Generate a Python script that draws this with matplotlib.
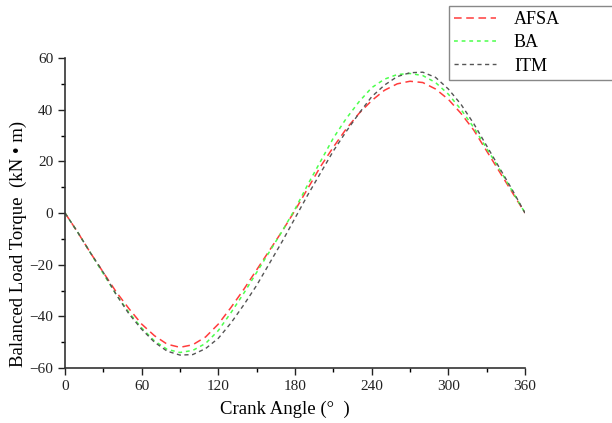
import matplotlib
matplotlib.use("Agg")
import matplotlib.pyplot as plt
import numpy as np
from matplotlib.ticker import MultipleLocator

plt.rcParams['font.family'] = ['Liberation Serif', 'DejaVu Serif']

# crank angle, degrees
angle = np.arange(0, 361, 10)

afsa = [0, -7.5, -15.5, -23, -30.5, -37, -43, -47.5, -50.8, -52,
        -51, -48, -43, -36.5, -29.5, -22, -14.5, -7, 1, 9.5,
        18, 25.5, 32.5, 38.5, 43.5, 47.5, 50, 51, 50.5, 48,
        44, 38.5, 32, 24, 16, 8, 0]
ba = [0, -7.5, -15.5, -23.5, -31.5, -38.5, -44.5, -49.5, -52.8, -54,
      -53.2, -50.5, -45.5, -38.5, -31, -23, -15, -7, 1.5, 11,
      20, 29, 36.5, 43, 48.5, 51.8, 53.6, 54, 53.2, 50.5,
      46, 40, 33, 25, 17, 8.5, 0]
itm = [0, -7.5, -15.5, -23, -31.5, -39, -45, -50, -53.5, -55,
       -54.8, -52.5, -48.5, -42.5, -35.5, -28, -19.5, -11, -2, 7,
       15.5, 24, 31.5, 38.5, 45, 49.5, 52.8, 54.3, 54.5, 52.5,
       48, 42, 34.5, 26, 17.5, 9, 0]

fig = plt.figure(figsize=(6.12, 4.23), dpi=100)
ax = fig.add_axes([65/612, 1-368/423, 460/612, 310/423])

ax.plot(angle, afsa, color='#ff3c3c', lw=1.1, ls=(0, (5, 3)), label='AFSA')
ax.plot(angle, ba, color='#4cff4c', lw=1.1, ls=(0, (2.5, 2.5)), label='BA')
ax.plot(angle, itm, color='#555555', lw=1.0, ls=(0, (3, 2.5)), label='ITM')

ax.set_xlim(0, 360)
ax.set_ylim(-60, 60)
ax.set_xticks(np.arange(0, 361, 60))
ax.set_yticks(np.arange(-60, 61, 20))
ax.xaxis.set_minor_locator(MultipleLocator(30))
ax.yaxis.set_minor_locator(MultipleLocator(10))
ax.tick_params(which='major', direction='out', length=5, width=1, labelsize=11, colors='#222222')
ax.tick_params(which='minor', direction='out', length=3, width=1)
for s in ['top', 'right']:
    ax.spines[s].set_visible(False)
for s in ['left', 'bottom']:
    ax.spines[s].set_linewidth(1.2)
    ax.spines[s].set_color('#333333')

ax.set_xlabel('Crank Angle (°  )', fontsize=13.5)
ax.set_ylabel('Balanced Load Torque  (kN • m)', fontsize=13.5)
ax.xaxis.set_label_coords(0.478, -0.105)
ax.yaxis.set_label_coords(-0.083, 0.40)

leg = fig.legend(loc='lower left', bbox_to_anchor=(449/612, 1-80/423, 0.35, 70/423),
                 mode='expand', fontsize=13, handlelength=2.3, handletextpad=1.0,
                 borderaxespad=0, borderpad=0.3, fancybox=False, edgecolor='#888888',
                 framealpha=1, labelspacing=0.35)
leg.get_frame().set_linewidth(1.0)

plt.savefig('out.png', dpi=100)
